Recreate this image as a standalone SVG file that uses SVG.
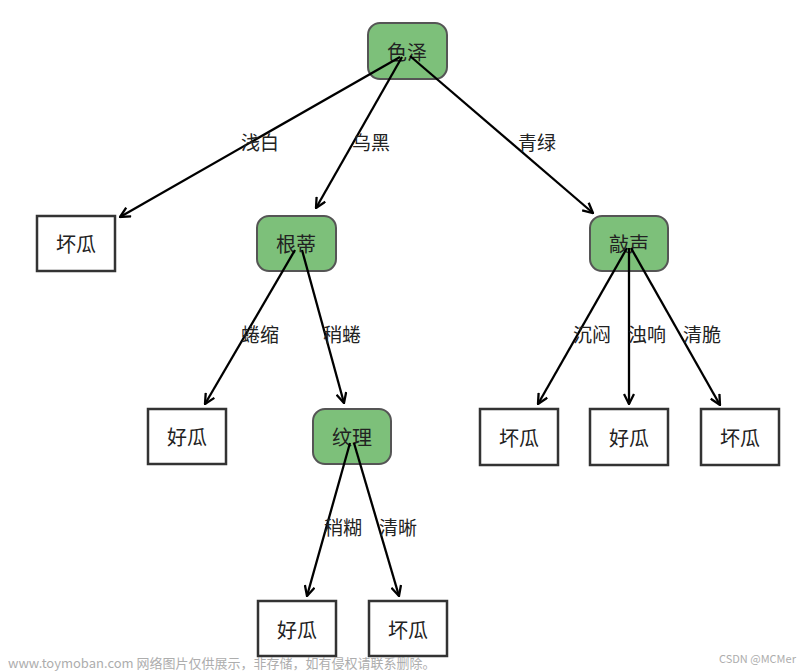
<svg xmlns="http://www.w3.org/2000/svg" width="810" height="671" viewBox="0 0 810 671">
<style>
.dec{fill:#7dc07a;stroke:#555;stroke-width:2}
.leaf{fill:#fff;stroke:#333;stroke-width:2.5}
text{font-family:"Noto Sans CJK SC","Noto Sans",sans-serif;font-size:20px;fill:#222;text-anchor:middle;dominant-baseline:central}
.lbl{font-size:19px}
.edge{stroke:#000;stroke-width:2.3;fill:none;marker-end:url(#arr)}
.wm{font-size:13px;fill:#999;text-anchor:start;opacity:0.8}
</style>
<defs>
<marker id="arr" viewBox="0 0 12 12" refX="11" refY="6" markerWidth="12" markerHeight="12" markerUnits="userSpaceOnUse" orient="auto">
<path d="M1,1 L11,6 L1,11" fill="none" stroke="#000" stroke-width="2.3"/>
</marker>
</defs>
<rect width="810" height="671" fill="#fff"/>
<g id="n-sezhe"><rect class="dec" x="368" y="23" width="79" height="56" rx="12"/><text x="407" y="51">色泽</text></g>
<g id="n-huaigua1"><rect class="leaf" x="37" y="216" width="78" height="55"/><text x="76" y="243">坏瓜</text></g>
<g id="n-gendi"><rect class="dec" x="257" y="216" width="79" height="55" rx="12"/><text x="296" y="243">根蒂</text></g>
<g id="n-qiaosheng"><rect class="dec" x="590" y="216" width="78" height="55" rx="12"/><text x="629" y="243">敲声</text></g>
<g id="n-haogua1"><rect class="leaf" x="148" y="409" width="78" height="55"/><text x="187" y="436">好瓜</text></g>
<g id="n-wenli"><rect class="dec" x="313" y="409" width="78" height="55" rx="12"/><text x="352" y="436">纹理</text></g>
<g id="n-huaigua2"><rect class="leaf" x="480" y="409" width="78" height="56"/><text x="519" y="437">坏瓜</text></g>
<g id="n-haogua2"><rect class="leaf" x="590" y="409" width="78" height="56"/><text x="629" y="437">好瓜</text></g>
<g id="n-huaigua3"><rect class="leaf" x="701" y="409" width="78" height="56"/><text x="740" y="437">坏瓜</text></g>
<g id="n-haogua3"><rect class="leaf" x="258" y="601" width="78" height="55"/><text x="297" y="629">好瓜</text></g>
<g id="n-huaigua4"><rect class="leaf" x="369" y="601" width="78" height="55"/><text x="408" y="629">坏瓜</text></g>
<g id="connectors">
<line class="edge" x1="400" y1="57" x2="120" y2="217"/>
<line class="edge" x1="402" y1="57" x2="316" y2="208"/>
<line class="edge" x1="410" y1="56" x2="593" y2="213"/>
<line class="edge" x1="295" y1="250" x2="205" y2="404"/>
<line class="edge" x1="302" y1="250" x2="344" y2="403"/>
<line class="edge" x1="627" y1="248" x2="538" y2="404"/>
<line class="edge" x1="629" y1="248" x2="629" y2="404"/>
<line class="edge" x1="631" y1="248" x2="720" y2="405"/>
<line class="edge" x1="350" y1="443" x2="307" y2="596"/>
<line class="edge" x1="354" y1="443" x2="399" y2="596"/>
<text class="lbl" x="260" y="141">浅白</text>
<text class="lbl" x="371" y="141">乌黑</text>
<text class="lbl" x="537" y="141">青绿</text>
<text class="lbl" x="260" y="333">蜷缩</text>
<text class="lbl" x="342" y="333">稍蜷</text>
<text class="lbl" x="592" y="333">沉闷</text>
<text class="lbl" x="647" y="333">浊响</text>
<text class="lbl" x="702" y="333">清脆</text>
<text class="lbl" x="343" y="526">稍糊</text>
<text class="lbl" x="398" y="526">清晰</text>
</g>
<text class="wm" x="8" y="662">www.toymoban.com 网络图片仅供展示，非存储，如有侵权请联系删除。</text>
<text class="wm" x="719" y="658" style="font-size:11px">CSDN @MCMer</text>
</svg>
